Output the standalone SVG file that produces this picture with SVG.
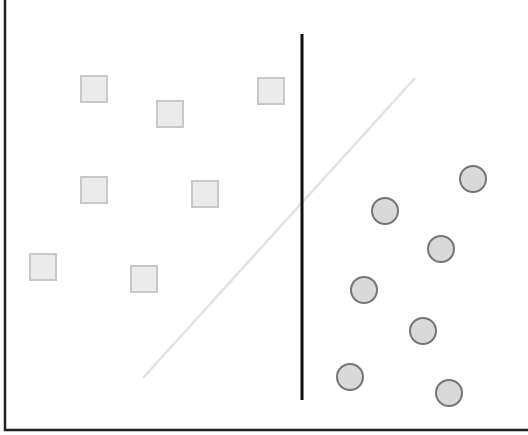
<svg xmlns="http://www.w3.org/2000/svg" width="528" height="435" viewBox="0 0 528 435">
<style>
.sq{fill:#ebebeb;stroke:#c8c8c8;stroke-width:2}
.ci{fill:#d9d9d9;stroke:#757575;stroke-width:2}
.axis{stroke:#222;stroke-width:2.5;fill:none}
</style>
<rect width="528" height="435" fill="#fff"/>
<g id="axes">
<polyline class="axis" points="5,0 5,430 528,430"/>
</g>
<g id="connectors">
<line x1="143" y1="378" x2="415" y2="78" stroke="#e2e2e2" stroke-width="2.5"/>
<line x1="302" y1="34" x2="302" y2="400" stroke="#111" stroke-width="3"/>
</g>
<g id="squares">
<rect id="s1" class="sq" x="81" y="76" width="26" height="26"/>
<rect id="s2" class="sq" x="157" y="101" width="26" height="26"/>
<rect id="s3" class="sq" x="258" y="78" width="26" height="26"/>
<rect id="s4" class="sq" x="81" y="177" width="26" height="26"/>
<rect id="s5" class="sq" x="192" y="181" width="26" height="26"/>
<rect id="s6" class="sq" x="30" y="254" width="26" height="26"/>
<rect id="s7" class="sq" x="131" y="266" width="26" height="26"/>
</g>
<g id="circles">
<circle id="c1" class="ci" cx="473" cy="179" r="13"/>
<circle id="c2" class="ci" cx="385" cy="211" r="13"/>
<circle id="c3" class="ci" cx="441" cy="249" r="13"/>
<circle id="c4" class="ci" cx="364" cy="290" r="13"/>
<circle id="c5" class="ci" cx="423" cy="331" r="13"/>
<circle id="c6" class="ci" cx="350" cy="377" r="13"/>
<circle id="c7" class="ci" cx="449" cy="393" r="13"/>
</g>
</svg>
